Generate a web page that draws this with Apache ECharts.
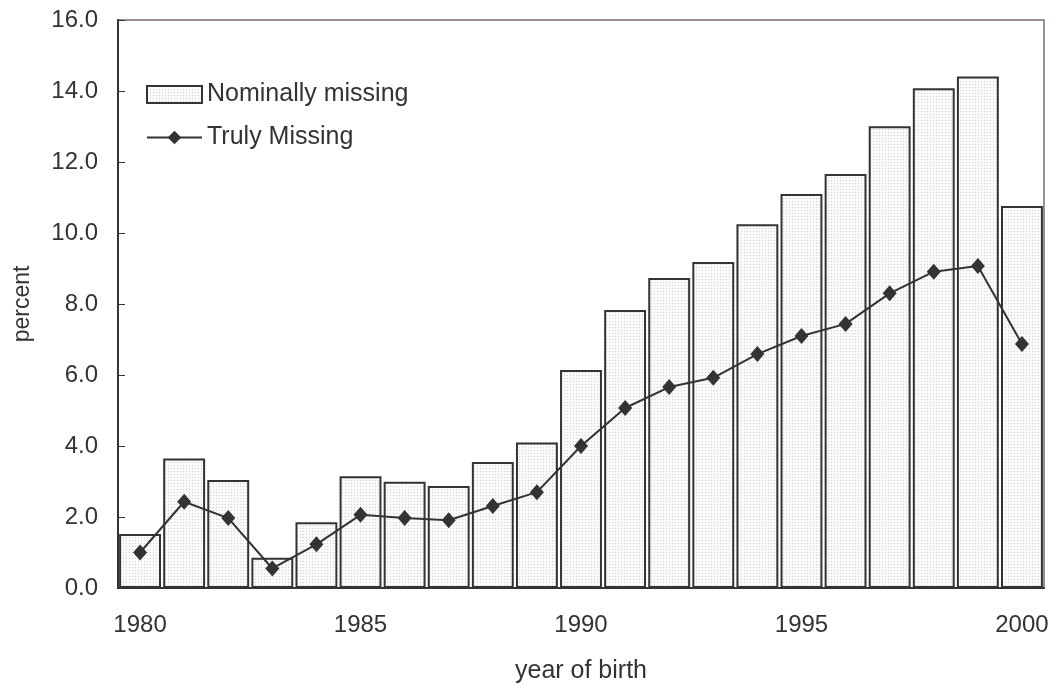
<!DOCTYPE html>
<html>
<head>
<meta charset="utf-8">
<script src="https://cdn.jsdelivr.net/npm/echarts@6/dist/echarts.min.js"></script>
<style>
  html, body { margin: 0; padding: 0; background: #fff; }
  #main { width: 1056px; height: 690px; }
</style>
</head>
<body>
<div id="main"></div>
<script>
// data
var years = ['1980', '1981', '1982', '1983', '1984', '1985', '1986', '1987', '1988', '1989', '1990',
  '1991', '1992', '1993', '1994', '1995', '1996', '1997', '1998', '1999', '2000'];
var nominallyMissing = [1.52, 3.65, 3.04, 0.85, 1.85, 3.15, 2.99, 2.87, 3.55, 4.1, 6.14,
  7.83, 8.73, 9.18, 10.25, 11.1, 11.66, 13.01, 14.08, 14.41, 10.76];
var trulyMissing = [1.0, 2.43, 1.97, 0.55, 1.23, 2.06, 1.97, 1.91, 2.31, 2.7, 4.0,
  5.07, 5.66, 5.92, 6.59, 7.1, 7.44, 8.3, 8.91, 9.07, 6.87];

// dotted fill like the original
var pat = document.createElement('canvas');
pat.width = 3; pat.height = 3;
var ctx = pat.getContext('2d');
ctx.fillStyle = '#fafafa';
ctx.fillRect(0, 0, 3, 3);
ctx.fillStyle = '#cfcfcf';
ctx.fillRect(0, 0, 1, 1);

var font = 'Liberation Sans, Arial, sans-serif';
var chart = echarts.init(document.getElementById('main'));
chart.setOption({
  animation: false,
  textStyle: { fontFamily: font },
  grid: {
    left: 118, right: 12, top: 20, bottom: 102,
    outerBoundsMode: 'none',
    show: true, borderColor: '#9a9090', borderWidth: 2
  },
  legend: {
    orient: 'vertical',
    left: 141, top: 77,
    itemWidth: 55, itemHeight: 17, itemGap: 18,
    textStyle: { fontSize: 25, color: '#333', fontFamily: font },
    data: [
      { name: 'Nominally missing', icon: 'rect' },
      { name: 'Truly Missing' }
    ]
  },
  xAxis: {
    type: 'category',
    data: years,
    name: 'year of birth',
    nameLocation: 'middle',
    nameGap: 71,
    nameTextStyle: { fontSize: 25, color: '#333' },
    axisLine: { lineStyle: { color: '#333', width: 2 } },
    axisTick: { show: false },
    axisLabel: {
      fontSize: 24, color: '#333', margin: 25,
      interval: function (i) { return i % 5 === 0; }
    }
  },
  yAxis: {
    type: 'value',
    min: 0, max: 16, interval: 2,
    name: 'percent',
    nameLocation: 'middle',
    nameGap: 84,
    nameTextStyle: { fontSize: 23, color: '#333' },
    axisLine: { show: true, lineStyle: { color: '#333', width: 2 } },
    axisTick: { show: true, inside: true, length: 7, lineStyle: { color: '#333', width: 1 } },
    axisLabel: {
      fontSize: 24, color: '#333', margin: 20,
      formatter: function (v) { return v.toFixed(1); }
    },
    splitLine: { show: false }
  },
  series: [
    {
      name: 'Nominally missing',
      type: 'bar',
      data: nominallyMissing,
      barCategoryGap: '5%',
      itemStyle: {
        color: { image: pat, repeat: 'repeat' },
        borderColor: '#333',
        borderWidth: 2
      }
    },
    {
      name: 'Truly Missing',
      type: 'line',
      data: trulyMissing,
      symbol: 'diamond',
      symbolSize: [14, 16],
      lineStyle: { color: '#333', width: 2 },
      itemStyle: { color: '#333' }
    }
  ]
});
</script>
</body>
</html>
